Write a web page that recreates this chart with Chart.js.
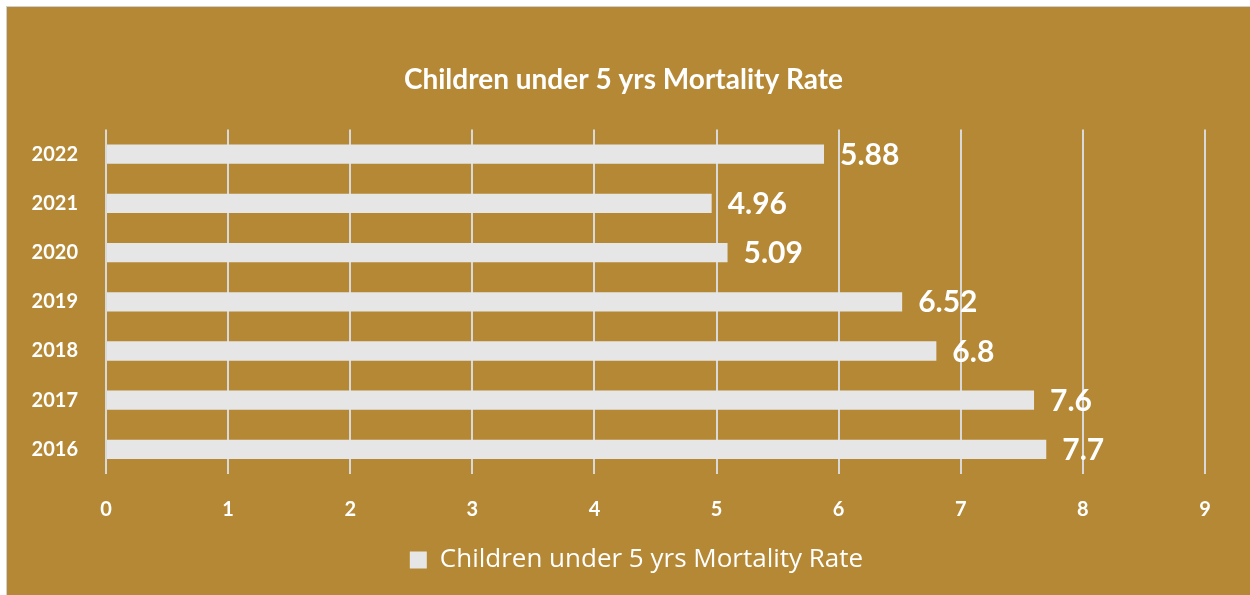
<!DOCTYPE html>
<html>
<head>
<meta charset="utf-8">
<script src="https://cdn.jsdelivr.net/npm/chart.js@4"></script>
<style>
  html, body { margin: 0; padding: 0; background: #fff; }
  body { width: 1250px; height: 595px; overflow: hidden; position: relative; }
  #panel {
    position: absolute; left: 6px; top: 6px; width: 1244px; height: 589px;
    background: #B48835; border-left: 1px solid #d0d0d0; border-top: 1px solid #d0d0d0;
  }
  #wrap { width: 1243px; height: 588px; }
</style>
</head>
<body>
<div id="panel"><div id="wrap"><canvas id="chart"></canvas></div></div>
<script>
  // values
  var years = ['2016', '2017', '2018', '2019', '2020', '2021', '2022'];
  var mortality = [7.7, 7.6, 6.8, 6.52, 5.09, 4.96, 5.88];
  var seriesName = 'Children under 5 yrs Mortality Rate';
  var titleText = 'Children under 5 yrs Mortality Rate';

  /* value labels drawn just after each bar end */
  var valueLabels = {
    id: 'valueLabels',
    afterDatasetsDraw: function (chart) {
      var ctx = chart.ctx;
      var meta = chart.getDatasetMeta(0);
      ctx.save();
      ctx.fillStyle = '#ffffff';
      ctx.font = "bold 30px Lato, sans-serif";
      ctx.textAlign = 'left';
      ctx.textBaseline = 'middle';
      meta.data.forEach(function (bar, i) {
        ctx.fillText(String(chart.data.datasets[0].data[i]), bar.x + 16, bar.y + 1);
      });
      ctx.restore();
    }
  };

  /* title and legend sit centred on the whole panel, not the padded box */
  var recentre = {
    id: 'recentre',
    afterLayout: function (chart) {
      if (chart.legend) { chart.legend.left += 19; chart.legend.right += 19; }
      if (chart.titleBlock) { chart.titleBlock.left += 6; chart.titleBlock.right += 6; }
    }
  };

  new Chart(document.getElementById('chart').getContext('2d'), {
    type: 'bar',
    data: {
      labels: years,
      datasets: [{
        label: seriesName,
        data: mortality,
        backgroundColor: '#E6E6E6',
        borderWidth: 0,
        categoryPercentage: 0.8,
        barPercentage: 0.49
      }]
    },
    options: {
      indexAxis: 'y',
      responsive: true,
      maintainAspectRatio: false,
      animation: false,
      layout: { padding: { left: 23, right: 45, top: 0, bottom: 12 } },
      plugins: {
        title: {
          display: true,
          text: titleText,
          color: '#ffffff',
          font: { family: 'Lato, sans-serif', size: 28, weight: 'bold' },
          padding: { top: 56, bottom: 33 }
        },
        legend: {
          position: 'bottom',
          labels: {
            color: '#ffffff',
            font: { family: "'Open Sans', sans-serif", size: 26 },
            boxWidth: 17,
            boxHeight: 17,
            padding: 1
          }
        },
        tooltip: { enabled: false }
      },
      scales: {
        x: {
          min: 0,
          max: 9,
          ticks: {
            stepSize: 1,
            color: '#ffffff',
            padding: 24,
            font: { family: 'Lato, sans-serif', size: 20, weight: 'bold' }
          },
          grid: { color: '#D9D9D9', lineWidth: 2, drawTicks: false },
          border: { display: false }
        },
        y: {
          reverse: true,
          afterFit: function (scale) { scale.width = 76; },
          ticks: {
            color: '#ffffff',
            padding: 28,
            font: { family: 'Lato, sans-serif', size: 20, weight: 'bold' }
          },
          grid: { display: false, drawTicks: false },
          border: { display: false }
        }
      }
    },
    plugins: [valueLabels, recentre]
  });
</script>
</body>
</html>
